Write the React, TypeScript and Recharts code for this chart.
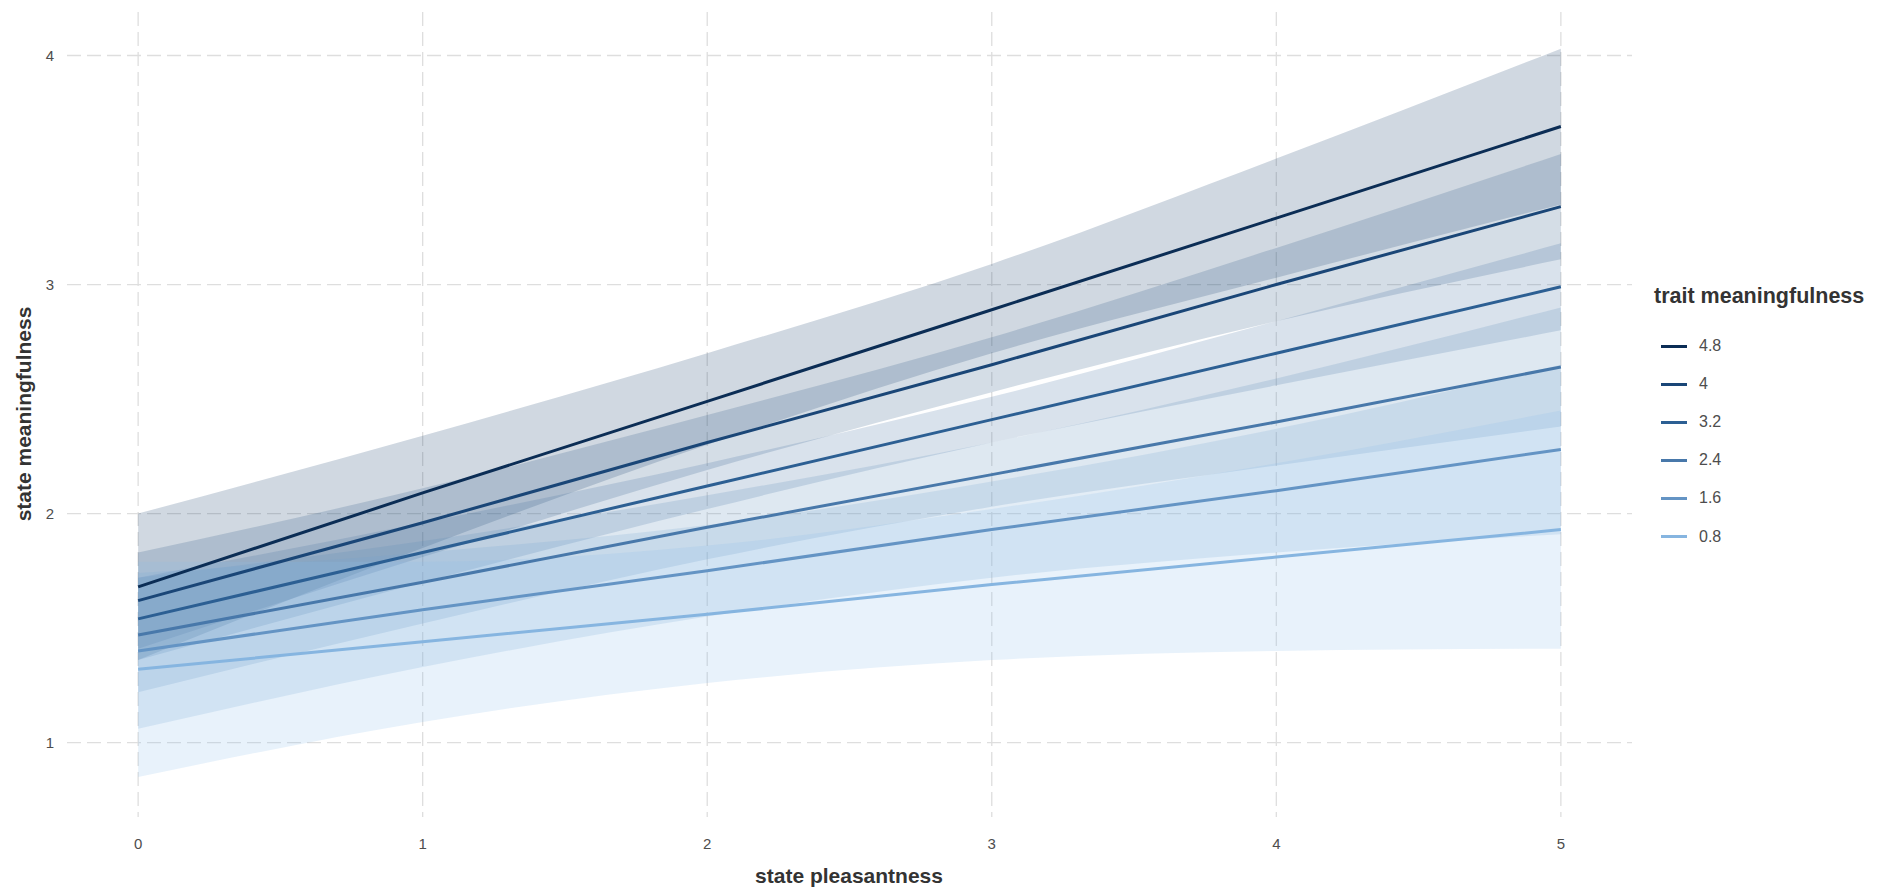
import React from "react";
import {
  ComposedChart,
  Area,
  Line,
  XAxis,
  YAxis,
  CartesianGrid,
} from "recharts";

// state pleasantness sample points
const pleasantness = [0, 1, 2, 3, 4, 5];

// trait meaningfulness levels, darkest first (legend order)
const traitLevels = ["4.8", "4", "3.2", "2.4", "1.6", "0.8"];
const lineColors = ["#0b2d55", "#1a4677", "#2c5f93", "#4878aa", "#6494c4", "#86b5e0"];
const bandColors = ["#123a6b", "#2a5584", "#43709e", "#5b8ab7", "#74a5d1", "#8cc0ea"];

// predicted state meaningfulness per trait level
const fit48 = [1.68, 2.09, 2.49, 2.89, 3.29, 3.69];
const fit40 = [1.62, 1.96, 2.31, 2.65, 3.0, 3.34];
const fit32 = [1.54, 1.83, 2.12, 2.41, 2.7, 2.99];
const fit24 = [1.47, 1.7, 1.94, 2.17, 2.4, 2.64];
const fit16 = [1.4, 1.58, 1.75, 1.93, 2.1, 2.28];
const fit08 = [1.32, 1.44, 1.56, 1.69, 1.81, 1.93];

// confidence band lower / upper
const lo48 = [1.36, 1.85, 2.3, 2.7, 3.03, 3.35];
const hi48 = [2.0, 2.34, 2.7, 3.09, 3.55, 4.03];
const lo40 = [1.41, 1.81, 2.19, 2.53, 2.84, 3.11];
const hi40 = [1.83, 2.11, 2.43, 2.77, 3.16, 3.57];
const lo32 = [1.36, 1.7, 2.02, 2.31, 2.56, 2.8];
const hi32 = [1.72, 1.96, 2.22, 2.51, 2.84, 3.18];
const lo24 = [1.22, 1.52, 1.8, 2.03, 2.21, 2.38];
const hi24 = [1.72, 1.88, 2.08, 2.31, 2.59, 2.9];
const lo16 = [1.06, 1.33, 1.55, 1.72, 1.83, 1.91];
const hi16 = [1.74, 1.83, 1.95, 2.14, 2.37, 2.65];
const lo08 = [0.85, 1.09, 1.26, 1.36, 1.4, 1.41];
const hi08 = [1.79, 1.79, 1.86, 2.02, 2.22, 2.45];

const xTicks = [0, 1, 2, 3, 4, 5];
const yTicks = [1, 2, 3, 4];
const X_DOMAIN = [-0.25, 5.25];
const Y_DOMAIN = [0.675, 4.19];

const fits = [fit48, fit40, fit32, fit24, fit16, fit08];
const los = [lo48, lo40, lo32, lo24, lo16, lo08];
const his = [hi48, hi40, hi32, hi24, hi16, hi08];

const data = pleasantness.map((x, i) => {
  const row: any = { x };
  traitLevels.forEach((_, k) => {
    row[`fit${k}`] = fits[k][i];
    row[`band${k}`] = [los[k][i], his[k][i]];
  });
  return row;
});

const FONT = "'Liberation Sans', Arial, sans-serif";
const TICK_COLOR = "#4d4d4d";
const TITLE_COLOR = "#333333";
const GRID_COLOR = "#dedede";

const YTick = (props: any) => (
  <text x={50} y={props.y} textAnchor="middle" dominantBaseline="central"
    fontSize={15} fill={TICK_COLOR} fontFamily={FONT}>
    {props.payload.value}
  </text>
);

const XTick = (props: any) => (
  <text x={props.x} y={843} textAnchor="middle" dominantBaseline="central"
    fontSize={15} fill={TICK_COLOR} fontFamily={FONT}>
    {props.payload.value}
  </text>
);

// grid only at the tick values, not at the panel edges
const hGrid = (props: any) => {
  const o = props.offset || {};
  const top = o.top ?? 12;
  const h = o.height ?? props.height;
  return yTicks.map((v) => top + ((Y_DOMAIN[1] - v) / (Y_DOMAIN[1] - Y_DOMAIN[0])) * h);
};
const vGrid = (props: any) => {
  const o = props.offset || {};
  const left = o.left ?? 67;
  const w = o.width ?? props.width;
  return xTicks.map((v) => left + ((v - X_DOMAIN[0]) / (X_DOMAIN[1] - X_DOMAIN[0])) * w);
};

export default function App() {
  return (
    <div style={{ position: "absolute", left: 0, top: 0, width: 1902, height: 896, background: "#fff", fontFamily: FONT }}>
      <ComposedChart
        width={1902}
        height={896}
        data={data}
        margin={{ top: 12, right: 270, left: 7, bottom: 39 }}
      >
        <CartesianGrid
          stroke={GRID_COLOR}
          strokeDasharray="14 6"
          strokeWidth={1.3}
          horizontalCoordinatesGenerator={hGrid}
          verticalCoordinatesGenerator={vGrid}
        />
        <XAxis
          dataKey="x"
          type="number"
          domain={X_DOMAIN}
          ticks={xTicks}
          axisLine={false}
          tickLine={false}
          height={40}
          tick={<XTick />}
          allowDataOverflow
        />
        <YAxis
          type="number"
          domain={Y_DOMAIN}
          ticks={yTicks}
          axisLine={false}
          tickLine={false}
          width={60}
          tick={<YTick />}
          allowDataOverflow
        />
        {traitLevels.map((t, k) => (
          <Area
            key={`band-${t}`}
            dataKey={`band${k}`}
            type="monotone"
            fill={bandColors[k]}
            fillOpacity={0.2}
            stroke="none"
            isAnimationActive={false}
            activeDot={false}
          />
        ))}
        {traitLevels.map((t, k) => (
          <Line
            key={`fit-${t}`}
            dataKey={`fit${k}`}
            type="linear"
            stroke={lineColors[k]}
            strokeWidth={3}
            dot={false}
            activeDot={false}
            isAnimationActive={false}
          />
        ))}
      </ComposedChart>

      {/* axis titles */}
      <div style={{ position: "absolute", left: 849, top: 876, transform: "translate(-50%, -50%)", fontSize: 21, fontWeight: "bold", color: TITLE_COLOR, whiteSpace: "nowrap" }}>
        state pleasantness
      </div>
      <div style={{ position: "absolute", left: 24, top: 414, transform: "translate(-50%, -50%) rotate(-90deg)", fontSize: 21, fontWeight: "bold", color: TITLE_COLOR, whiteSpace: "nowrap" }}>
        state meaningfulness
      </div>

      {/* legend */}
      <div style={{ position: "absolute", left: 1654, top: 296, transform: "translateY(-50%)", fontSize: 21.5, fontWeight: "bold", color: TITLE_COLOR, whiteSpace: "nowrap" }}>
        trait meaningfulness
      </div>
      {traitLevels.map((t, k) => (
        <div key={t} style={{ position: "absolute", left: 1661, top: 346 + k * 38.1, transform: "translateY(-50%)", display: "flex", alignItems: "center" }}>
          <div style={{ width: 26, height: 3, background: lineColors[k] }} />
          <span style={{ marginLeft: 12, fontSize: 16, color: TICK_COLOR }}>{t}</span>
        </div>
      ))}
    </div>
  );
}
